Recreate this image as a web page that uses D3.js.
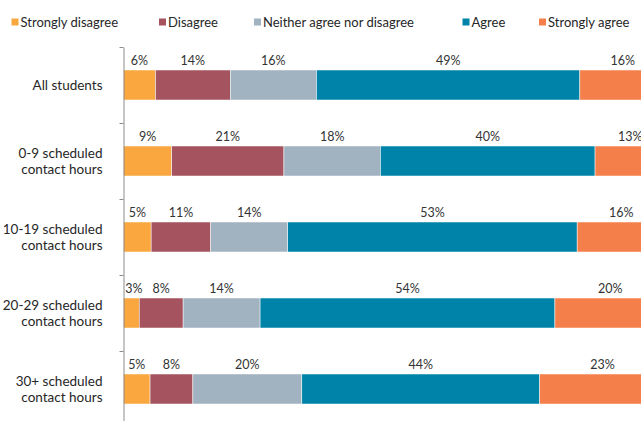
<!DOCTYPE html>
<html>
<head>
<meta charset="utf-8">
<script src="https://cdn.jsdelivr.net/npm/d3@7"></script>
<style>
  body { margin: 0; background: #fff; }
  svg { display: block; font-family: Lato, "Open Sans", sans-serif; }
</style>
</head>
<body>
<div id="chart"></div>
<script>
// categories, top to bottom (each entry is the lines of the label)
const categories = [
  ['All students'],
  ['0-9 scheduled', 'contact hours'],
  ['10-19 scheduled', 'contact hours'],
  ['20-29 scheduled', 'contact hours'],
  ['30+ scheduled', 'contact hours']
]
const seriesNames = ['Strongly disagree', 'Disagree', 'Neither agree nor disagree', 'Agree', 'Strongly agree']
const seriesColors = ['#f9a73e', '#a5535e', '#a1b2c1', '#0083a9', '#f47f4a']

// percent values per series, one per category
const stronglyDisagree = [5.9, 8.9, 5.1, 2.9, 4.9]
const disagree         = [13.8, 20.7, 11.0, 8.1, 7.9]
const neither          = [15.9, 17.8, 14.2, 14.2, 20.1]
const agree            = [48.6, 39.6, 53.4, 54.4, 43.9]
const stronglyAgree    = [15.8, 13.0, 16.3, 20.4, 23.2]

const seriesValues = [stronglyDisagree, disagree, neither, agree, stronglyAgree]

const W = 641, H = 421
const margin = { left: 123.5, top: 47 }
const plotW = 542, step = 76

const svg = d3.select('#chart').append('svg')
    .attr('width', W)
    .attr('height', H)

const rows = categories.map((c, i) => {
    const r = { key: i }
    seriesNames.forEach((s, j) => { r[s] = seriesValues[j][i] })
    return r
})
const stacked = d3.stack().keys(seriesNames)(rows)

const x = d3.scaleLinear().domain([0, 100]).range([margin.left, margin.left + plotW])
const y = d3.scaleBand()
    .domain(d3.range(categories.length))
    .range([margin.top, margin.top + step * categories.length])
    .paddingInner(46 / 76)
    .paddingOuter(23 / 76)
const yIdx = d3.scaleLinear().domain([0, categories.length]).range(y.range())

// bars
const layers = svg.append('g').selectAll('g')
    .data(stacked)
    .join('g')
    .attr('fill', (d, i) => seriesColors[i])
layers.selectAll('rect')
    .data(d => d)
    .join('rect')
    .attr('x', d => x(d[0]))
    .attr('y', d => y(d.data.key))
    .attr('width', d => x(d[1]) - x(d[0]))
    .attr('height', y.bandwidth())
    .attr('stroke', '#fff')
    .attr('stroke-width', 0.5)

// value labels above the segments (a tiny segment's label is nudged right, as in the original)
const fmt = v => Math.round(v) + '%'
svg.append('g').selectAll('g')
    .data(stacked)
    .join('g')
    .selectAll('text')
    .data(d => d)
    .join('text')
    .attr('x', d => x((d[0] + d[1]) / 2) + (d[1] - d[0] < 4 ? 2.5 : 0))
    .attr('y', d => y(d.data.key) - 5)
    .attr('text-anchor', 'middle')
    .attr('font-size', 12.5)
    .attr('fill', '#333')
    .text(d => fmt(d[1] - d[0]))

// left axis with ticks between categories
const axis = svg.append('g')
    .attr('transform', `translate(${margin.left},0)`)
    .call(d3.axisLeft(yIdx).tickValues(d3.range(categories.length + 1)).tickSize(4).tickSizeOuter(0).tickFormat(''))
axis.selectAll('path, line').attr('stroke', '#8c8c8c')

// category labels
const cat = svg.append('g').selectAll('text')
    .data(categories)
    .join('text')
    .attr('x', 102.5)
    .attr('y', (d, i) => y(i) + y.bandwidth() / 2 + (d.length === 1 ? 5 : -3))
    .attr('text-anchor', 'end')
    .attr('font-size', 13.5)
    .attr('fill', '#262626')
cat.selectAll('tspan')
    .data(d => d)
    .join('tspan')
    .attr('x', 102.5)
    .attr('dy', (d, i) => i === 0 ? 0 : 16)
    .text(d => d)

// legend
const legendX = [11.5, 159, 254, 462.5, 539]
const leg = svg.append('g').selectAll('g')
    .data(seriesNames)
    .join('g')
    .attr('transform', (d, i) => `translate(${legendX[i]},18.5)`)
leg.append('rect')
    .attr('width', 7)
    .attr('height', 7)
    .attr('fill', (d, i) => seriesColors[i])
leg.append('text')
    .attr('x', 9)
    .attr('y', 8.5)
    .attr('font-size', 13)
    .attr('fill', '#262626')
    .text(d => d)
</script>
</body>
</html>
